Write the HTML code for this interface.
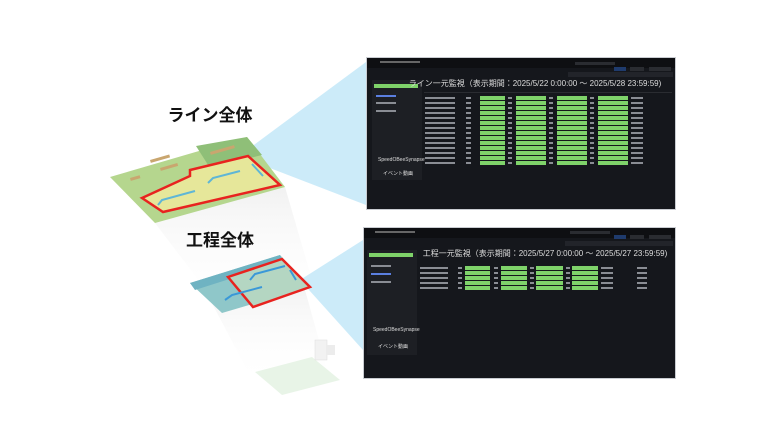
<!DOCTYPE html>
<html><head><meta charset="utf-8"><style>
html,body{margin:0;padding:0;background:#fff;width:772px;height:434px;overflow:hidden}
svg{display:block}
text{font-family:"Liberation Sans","Noto Sans CJK JP",sans-serif}
</style></head><body>
<svg width="772" height="434" viewBox="0 0 772 434" xmlns="http://www.w3.org/2000/svg">
<defs>
<linearGradient id="fade" x1="0" y1="0" x2="0" y2="1">
<stop offset="0" stop-color="#e9e9e9" stop-opacity="0.9"/><stop offset="1" stop-color="#fff" stop-opacity="0"/></linearGradient>
<g id="rowT">
<rect x="425" y="0" width="30" height="2" fill="#8a8d94"/>
<rect x="466" y="0" width="5" height="2" fill="#8a8d94"/>
<rect x="480" y="-1" width="25" height="4" fill="#7fd36a"/>
<rect x="508" y="0" width="4" height="2" fill="#8a8d94"/>
<rect x="516" y="-1" width="30" height="4" fill="#7fd36a"/>
<rect x="549" y="0" width="4" height="2" fill="#8a8d94"/>
<rect x="557" y="-1" width="30" height="4" fill="#7fd36a"/>
<rect x="590" y="0" width="4" height="2" fill="#8a8d94"/>
<rect x="598" y="-1" width="30" height="4" fill="#7fd36a"/>
<rect x="631" y="0" width="12" height="2" fill="#8a8d94"/>
</g>
<g id="rowB">
<rect x="420" y="0" width="28" height="2" fill="#8a8d94"/>
<rect x="458" y="0" width="4" height="2" fill="#8a8d94"/>
<rect x="465" y="-1" width="25" height="4" fill="#7fd36a"/>
<rect x="494" y="0" width="4" height="2" fill="#8a8d94"/>
<rect x="501" y="-1" width="26" height="4" fill="#7fd36a"/>
<rect x="530" y="0" width="4" height="2" fill="#8a8d94"/>
<rect x="536" y="-1" width="27" height="4" fill="#7fd36a"/>
<rect x="566" y="0" width="4" height="2" fill="#8a8d94"/>
<rect x="572" y="-1" width="26" height="4" fill="#7fd36a"/>
<rect x="601" y="0" width="12" height="2" fill="#8a8d94"/>
<rect x="637" y="0" width="10" height="2" fill="#8a8d94"/>
</g>
</defs>

<polygon points="155,223 285,187 315,290 225,315" fill="url(#fade)" opacity="0.7"/>
<polygon points="205,290 305,290 330,380 255,385" fill="url(#fade)" opacity="0.6"/>

<polygon points="247,150 366,62 366,205 262,165" fill="#bfe6f7" opacity="0.8"/>
<polygon points="300,280 363,240 363,350" fill="#bfe6f7" opacity="0.8"/>

<!-- top map -->
<polygon points="110,177 247,137 285,187 155,223" fill="#b5d68e"/>
<polygon points="196,146 247,137 262,155 210,168" fill="#8fbf78"/>
<polygon points="142,198 190,176 190,170 248,156 280,185 163,212" fill="#e6e79a" stroke="#e8231f" stroke-width="2.5"/>
<path d="M158,205 L162,200 L195,191 M208,183 L213,178 L240,171 M252,164 L263,176" stroke="#5fb6d6" stroke-width="2" fill="none"/>
<rect x="150" y="160" width="20" height="3" fill="#c9a66f" transform="rotate(-16 150 160)"/>
<rect x="160" y="168" width="18" height="3" fill="#c9a66f" transform="rotate(-16 160 168)"/>
<rect x="210" y="152" width="25" height="3" fill="#c9a66f" transform="rotate(-16 210 152)"/>
<rect x="130" y="178" width="10" height="3" fill="#c9a66f" transform="rotate(-16 130 178)"/>

<!-- bottom map -->
<polygon points="190,283 280,255 310,287 222,313" fill="#8fc7c9"/>
<polygon points="190,283 280,255 283,262 195,290" fill="#6fb3c2"/>
<polygon points="228,277 282,259 310,287 253,307" fill="#b4d6c2" stroke="#e8231f" stroke-width="2.5"/>
<path d="M225,300 L232,295 L262,287 M250,280 L255,274 L285,266 M290,270 L296,280" stroke="#3a98d8" stroke-width="2" fill="none"/>

<polygon points="255,372 312,357 340,380 282,395" fill="#e6f3e4" opacity="0.9"/>
<rect x="315" y="340" width="12" height="20" fill="#f2f2f2" stroke="#ddd" stroke-width="0.5"/>
<rect x="327" y="345" width="8" height="10" fill="#ececec"/>

<text x="210" y="121" font-size="17" font-weight="bold" text-anchor="middle" fill="#111">ライン全体</text>
<text x="220" y="246" font-size="17" font-weight="bold" text-anchor="middle" fill="#111">工程全体</text>

<!-- top screenshot -->
<rect x="366" y="57" width="310" height="153" fill="#c9ccd1"/>
<rect x="367" y="58" width="308" height="151" fill="#15171c"/>
<rect x="367" y="58" width="308" height="10" fill="#0e0f12"/>
<rect x="380" y="61" width="40" height="2" fill="#666"/>
<rect x="575" y="62" width="40" height="3" fill="#2a2c31"/>
<rect x="614" y="67" width="12" height="4" fill="#1f3b6d"/>
<rect x="630" y="67" width="14" height="4" fill="#2a2c31"/>
<rect x="649" y="67" width="22" height="4" fill="#2a2c31"/>
<rect x="568" y="72" width="105" height="5" fill="#22242a"/>
<rect x="372" y="80" width="50" height="100" fill="#1d1f24"/>
<rect x="374" y="84" width="44" height="4" fill="#7fd36a"/>
<rect x="376" y="95" width="20" height="2" fill="#5b7fe0"/>
<rect x="376" y="102" width="20" height="2" fill="#8a8d94"/>
<rect x="376" y="110" width="20" height="2" fill="#8a8d94"/>
<text x="378" y="161" font-size="5" fill="#ddd">SpeedOBeeSynapse</text>
<text x="383" y="175" font-size="5" fill="#ddd">イベント動画</text>
<text x="535" y="86" font-size="8" fill="#ddd" text-anchor="middle">ライン一元監視（表示期間：2025/5/22 0:00:00 ～ 2025/5/28 23:59:59)</text>
<rect x="424" y="92" width="248" height="1" fill="#2a2c31"/>
<use href="#rowT" y="97"/><use href="#rowT" y="102"/><use href="#rowT" y="107"/><use href="#rowT" y="112"/><use href="#rowT" y="117"/>
<use href="#rowT" y="122"/><use href="#rowT" y="127"/><use href="#rowT" y="132"/><use href="#rowT" y="137"/><use href="#rowT" y="142"/>
<use href="#rowT" y="147"/><use href="#rowT" y="152"/><use href="#rowT" y="157"/><use href="#rowT" y="162"/>

<!-- bottom screenshot -->
<rect x="363" y="227" width="313" height="152" fill="#c9ccd1"/>
<rect x="364" y="228" width="311" height="150" fill="#15171c"/>
<rect x="364" y="228" width="311" height="10" fill="#0e0f12"/>
<rect x="375" y="231" width="40" height="2" fill="#666"/>
<rect x="570" y="231" width="40" height="3" fill="#2a2c31"/>
<rect x="614" y="235" width="12" height="4" fill="#1f3b6d"/>
<rect x="630" y="235" width="14" height="4" fill="#2a2c31"/>
<rect x="649" y="235" width="22" height="4" fill="#2a2c31"/>
<rect x="565" y="241" width="108" height="5" fill="#22242a"/>
<rect x="367" y="250" width="50" height="105" fill="#1d1f24"/>
<rect x="369" y="253" width="44" height="4" fill="#7fd36a"/>
<rect x="371" y="265" width="20" height="2" fill="#8a8d94"/>
<rect x="371" y="273" width="20" height="2" fill="#5b7fe0"/>
<rect x="371" y="281" width="20" height="2" fill="#8a8d94"/>
<text x="373" y="331" font-size="5" fill="#ddd">SpeedOBeeSynapse</text>
<text x="378" y="348" font-size="5" fill="#ddd">イベント動画</text>
<text x="545" y="256" font-size="8" fill="#ddd" text-anchor="middle">工程一元監視（表示期間：2025/5/27 0:00:00 ～ 2025/5/27 23:59:59)</text>
<use href="#rowB" y="267"/><use href="#rowB" y="272"/><use href="#rowB" y="277"/><use href="#rowB" y="282"/><use href="#rowB" y="287"/>
</svg>
</body></html>
